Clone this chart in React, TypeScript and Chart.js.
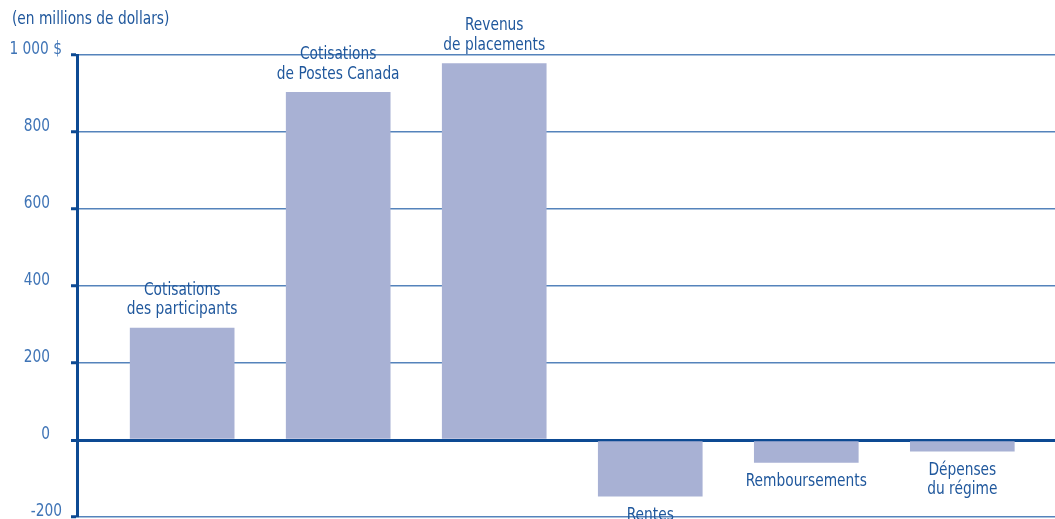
import React, { useEffect, useRef } from "react";
import { Chart, registerables } from "chart.js";

Chart.register(...registerables);

const categories: string[][] = [
  ["Cotisations", "des participants"],
  ["Cotisations", "de Postes Canada"],
  ["Revenus", "de placements"],
  ["Rentes"],
  ["Remboursements"],
  ["Dépenses", "du régime"],
];
const values: number[] = [291, 903, 978, -146, -58, -29];
const yTicks: number[] = [-200, 0, 200, 400, 600, 800, 1000];
const yTickLabels: string[] = ["-200", "0", "200", "400", "600", "800", "1 000 $"];
const unitLabel = "(en millions de dollars)";

const FONT = "'Liberation Sans Narrow', 'DejaVu Sans Condensed', 'Roboto', sans-serif";
const BAR_COLOR = "#a8b1d4";
const LABEL_COLOR = "#1f579c";
const TICK_COLOR = "#3f74b6";
const GRID_COLOR = "#5583bb";
const AXIS_COLOR = "#0d4a93";
const SQUEEZE = 0.9;

function squeezedText(ctx: CanvasRenderingContext2D, text: string, x: number, y: number, align: "left" | "center" | "right") {
  const w = ctx.measureText(text).width * SQUEEZE;
  let left = x;
  if (align === "center") left = x - w / 2;
  else if (align === "right") left = x - w;
  ctx.save();
  ctx.translate(left, y);
  ctx.scale(SQUEEZE, 1);
  ctx.textAlign = "left";
  ctx.fillText(text, 0, 0);
  ctx.restore();
}

const labelPlugin = {
  id: "labels",
  afterDatasetsDraw(chart: any) {
    const ctx = chart.ctx;
    const meta = chart.getDatasetMeta(0);
    const yScale = chart.scales.y;
    ctx.save();
    ctx.font = `17px ${FONT}`;
    ctx.fillStyle = LABEL_COLOR;
    ctx.textBaseline = "middle";
    const lh = 19.5;
    meta.data.forEach((el: any, i: number) => {
      const lines = categories[i];
      const v = values[i];
      if (v >= 0) {
        const last = el.y - 18;
        lines.forEach((ln, j) => {
          squeezedText(ctx, ln, el.x, last - (lines.length - 1 - j) * lh, "center");
        });
      } else {
        const first = el.y + 19;
        lines.forEach((ln, j) => {
          squeezedText(ctx, ln, el.x, first + j * lh, "center");
        });
      }
    });
    ctx.fillStyle = TICK_COLOR;
    yTicks.forEach((t, i) => {
      const lbl = yTickLabels[i];
      const py = yScale.getPixelForValue(t) - 5.5;
      const right = /[$-]/.test(lbl) ? 62 : 50;
      squeezedText(ctx, lbl, right, py, "right");
    });
    ctx.fillStyle = LABEL_COLOR;
    squeezedText(ctx, unitLabel, 12, 20, "left");
    ctx.restore();
  },
};

export default function App() {
  const ref = useRef<HTMLCanvasElement>(null);
  useEffect(() => {
    const canvas = ref.current;
    if (!canvas) return;
    const chart = new Chart(canvas, {
      type: "bar",
      data: {
        datasets: [
          {
            data: values.map((v, i) => ({ x: i, y: v })),
            backgroundColor: BAR_COLOR,
            borderWidth: 0,
            barThickness: 104,
          },
        ],
      },
      options: {
        responsive: false,
        animation: false,
        events: [],
        layout: { padding: { top: 55, bottom: 2, left: 0, right: 0 } },
        plugins: { legend: { display: false }, tooltip: { enabled: false } },
        scales: {
          x: {
            type: "linear",
            min: -0.674,
            max: 5.594,
            offset: false,
            display: false,
            grid: { offset: false },
          },
          y: {
            min: -200,
            max: 1000,
            afterBuildTicks: (scale: any) => {
              scale.ticks = yTicks.map((v) => ({ value: v }));
            },
            afterFit: (scale: any) => {
              scale.width = 77;
            },
            ticks: { display: false },
            border: { display: true, color: AXIS_COLOR, width: 3 },
            grid: {
              drawTicks: true,
              tickLength: 6,
              tickColor: AXIS_COLOR,
              tickWidth: 3,
              color: (c: any) => (c.tick && c.tick.value === 0 ? AXIS_COLOR : GRID_COLOR),
              lineWidth: (c: any) => (c.tick && c.tick.value === 0 ? 3 : 1.5),
            },
          },
        },
      },
      plugins: [labelPlugin],
    });
    return () => chart.destroy();
  }, []);
  return (
    <div style={{ position: "fixed", left: 0, top: 0, width: 1055, height: 519, background: "#fff" }}>
      <canvas ref={ref} width={1055} height={519} />
    </div>
  );
}
